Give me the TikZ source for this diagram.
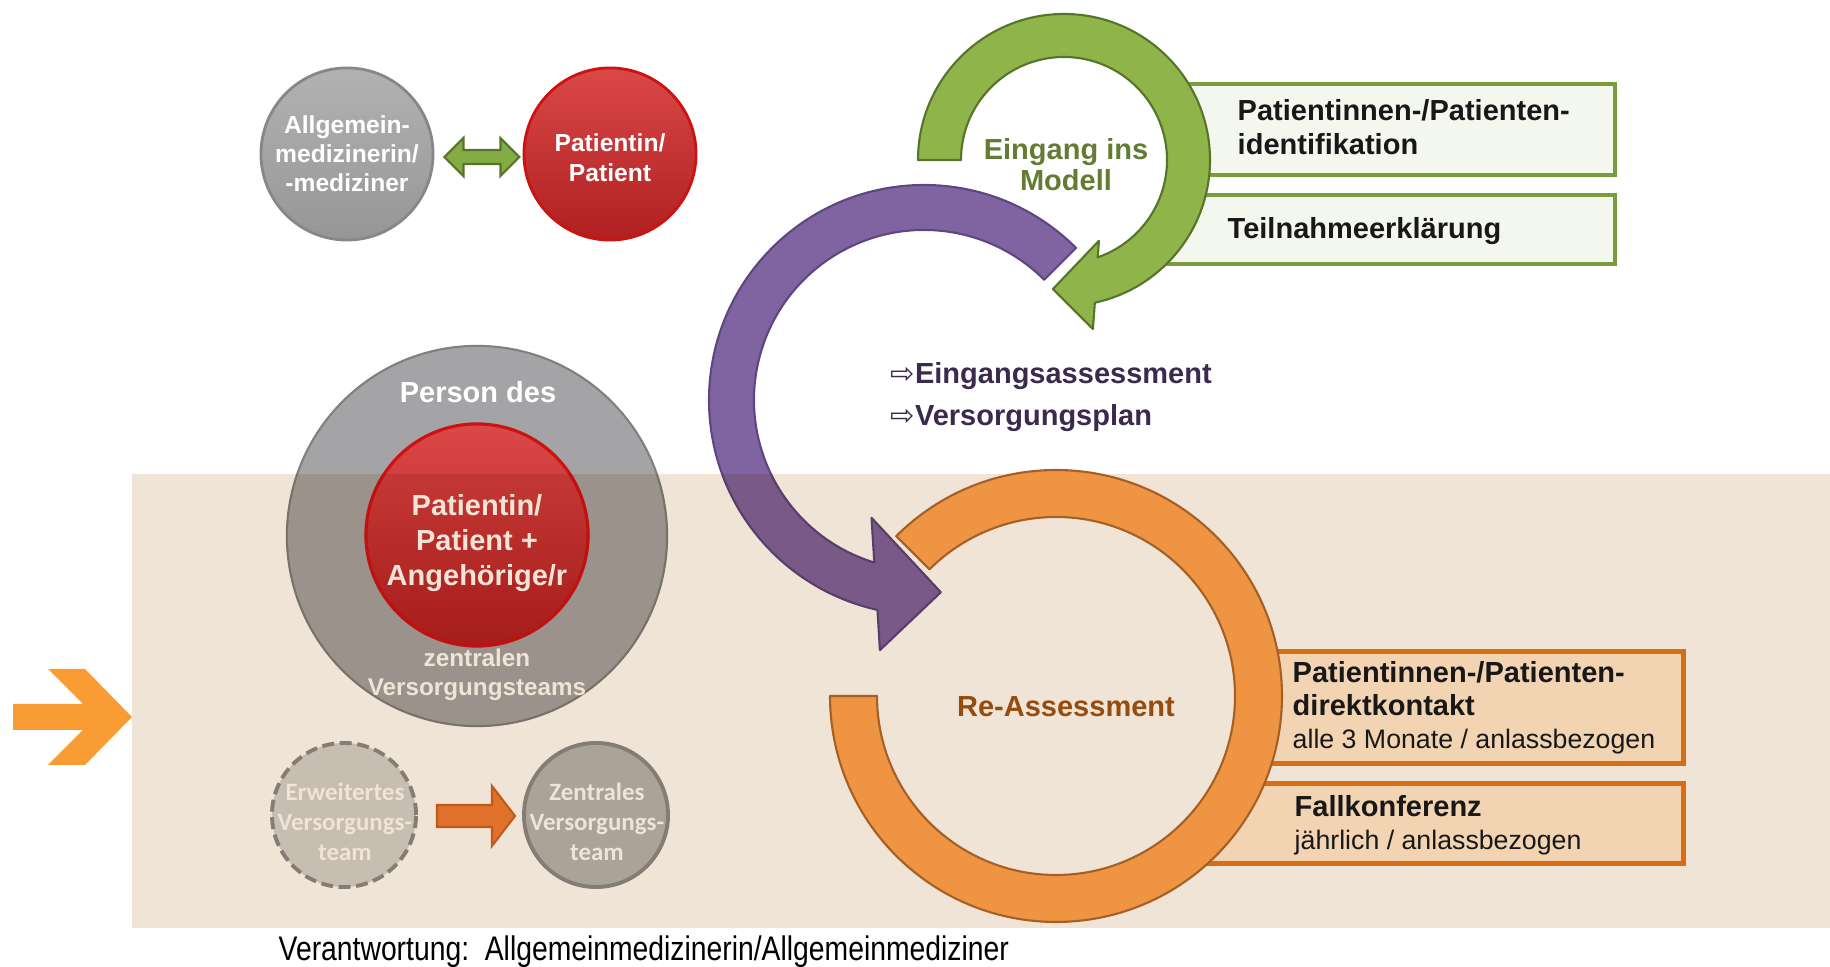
\documentclass[tikz,border=0pt]{standalone}
\usepackage{fontspec}
\setmainfont{Liberation Sans}
\newfontfamily\calfont{Carlito}
\newfontfamily\narrowfont[FakeStretch=0.83]{Liberation Sans}
\newfontfamily\symfont{DejaVu Sans}
\usetikzlibrary{calc}

\definecolor{bandbeige}{RGB}{240,228,214}
\definecolor{leftorange}{RGB}{250,156,52}
\definecolor{graytop}{RGB}{178,178,178}
\definecolor{graybot}{RGB}{150,150,150}
\definecolor{grayline}{RGB}{135,135,135}
\definecolor{redtop}{RGB}{218,72,72}
\definecolor{redbot}{RGB}{176,32,32}
\definecolor{redline}{RGB}{205,18,18}
\definecolor{linkgreen}{RGB}{132,172,68}
\definecolor{greenfill}{RGB}{143,181,74}
\definecolor{greenline}{RGB}{86,116,42}
\definecolor{greenboxfill}{RGB}{244,247,238}
\definecolor{greenboxline}{RGB}{120,156,62}
\definecolor{greentext}{RGB}{98,124,50}
\definecolor{purplefill}{RGB}{128,100,162}
\definecolor{purpleline}{RGB}{94,70,126}
\definecolor{purpletext}{RGB}{58,42,78}
\definecolor{teamgray}{RGB}{164,164,166}
\definecolor{teamline}{RGB}{128,128,128}
\definecolor{erwfill}{RGB}{212,212,212}
\definecolor{zvfill}{RGB}{182,182,182}
\definecolor{discline}{RGB}{140,140,140}
\definecolor{teamarrow}{RGB}{238,128,52}
\definecolor{teamarrowline}{RGB}{205,100,30}
\definecolor{orangefill}{RGB}{238,148,66}
\definecolor{orangeline}{RGB}{165,96,38}
\definecolor{orangeboxfill}{RGB}{242,212,178}
\definecolor{orangeboxline}{RGB}{214,110,22}
\definecolor{retext}{RGB}{150,76,14}
\definecolor{boxblack}{RGB}{24,24,24}

\begin{document}
\begin{tikzpicture}[x=0.01cm,y=0.01cm,
    ring/.style={line width=0.6pt,line join=round},
    disc/.style={circle,inner sep=0pt,align=center,text=white},
    topdisc/.style={disc,minimum size=1.72cm,line width=0.8pt,font=\bfseries\fontsize{7}{8.25}\selectfont},
    teamdisc/.style={circle,inner sep=0pt,minimum size=1.44cm,line width=1.1pt,draw=discline},
    teamtext/.style={align=center,inner sep=0pt,text=white,font=\calfont\bfseries\fontsize{7.1}{8.5}\selectfont},
    greenbox/.style={draw=greenboxline,fill=greenboxfill,line width=1.1pt,inner sep=0pt,anchor=north west},
    orangebox/.style={draw=orangeboxline,fill=orangeboxfill,line width=1.4pt,inner sep=0pt,anchor=north west},
    boxtext/.style={anchor=west,inner sep=0pt,align=left,text=boxblack,font=\bfseries\fontsize{8.25}{9.7}\selectfont},
    blockarrow/.style={line width=0.6pt,line join=miter}]
  \useasboundingbox (0,0) rectangle (1830,967);

  % arrow at the left edge
  \fill[leftorange] (13,263) -- (83,263) -- (48,298) -- (85,298) -- (132,250)
    -- (85,202) -- (48,202) -- (83,237) -- (13,237) -- cycle;

  % boxes of the entry step
  \node[greenbox,minimum width=4.38cm,minimum height=0.91cm] (idbox) at (1175,885) {};
  \node[greenbox,minimum width=4.48cm,minimum height=0.69cm] (tnbox) at (1165,774) {};
  \node[boxtext] (idtext) at ($(idbox.west)+(62,2)$) {Patientinnen-/Patienten-\\identifikation};
  \node[boxtext] (tntext) at ($(tnbox.west)+(62,-2)$) {Teilnahmeerklärung};

  % purple arc with head
  \coordinate (pc) at (924,567);
  \draw[ring,draw=purpleline,fill=purplefill] ($(pc)+(45:215)$) arc[start angle=45,end angle=257.5,radius=215]
    -- ($(pc)+(260:254)$) -- ($(pc)+(275:193)$) -- ($(pc)+(246:129)$) -- ($(pc)+(253:170)$)
    arc[start angle=253,end angle=45,radius=170] -- cycle;

  % green arc with head
  \coordinate (gc) at (1064,807);
  \draw[ring,draw=greenline,fill=greenfill] ($(gc)+(180:146)$) arc[start angle=180,end angle=-77.8,radius=146]
    -- ($(gc)+(-80.3:171.5)$) -- ($(gc)+(-94.9:129.5)$) -- ($(gc)+(-66.6:88)$) -- ($(gc)+(-70.9:103)$)
    arc[start angle=-70.9,end angle=180,radius=103] -- cycle;
  \node[align=center,text=greentext,font=\bfseries\fontsize{8.25}{8.8}\selectfont] (entry) at (1066,802) {Eingang ins\\Modell};

  % general practitioner and patient
  \node[topdisc,draw=grayline,top color=graytop,bottom color=graybot] (gp) at (347,813) {Allgemein-\\medizinerin/\\-mediziner};
  \node[topdisc,draw=redline,top color=redtop,bottom color=redbot] (pt) at (610,813) {};
  \node[align=center,inner sep=0pt,text=white,font=\bfseries\fontsize{7}{8.5}\selectfont] (pttext) at (610,809) {Patientin/\\Patient};
  \draw[blockarrow,draw=greenline,fill=linkgreen] ($(gp.east)+(10,-3)$) -- ++(19,19) -- ++(0,-12) -- ++(37,0)
    -- ++(0,12) -- ++(19,-19) -- ++(-19,-19) -- ++(0,12) -- ++(-37,0) -- ++(0,-12) -- cycle;

  % central team
  \node[circle,minimum size=3.8cm,fill=teamgray,draw=teamline,line width=0.6pt] (team) at (477,431) {};
  \node[disc,minimum size=2.22cm,draw=redline,line width=0.9pt,top color=redtop,bottom color=redbot] (core) at (477,432) {};
  \node[align=center,inner sep=0pt,text=white,font=\bfseries\fontsize{8.25}{9.9}\selectfont] (coretext) at (477,424)
    {Patientin/\\Patient +\\Angehörige/r};
  \node[text=white,font=\bfseries\fontsize{8.25}{9.7}\selectfont] (person) at (478,575) {Person des};
  \node[align=center,text=white,font=\bfseries\fontsize{6.9}{8.25}\selectfont] (central) at (477,292) {zentralen\\Versorgungsteams};

  % extended and central team
  \node[teamdisc,fill=erwfill,dash pattern=on 3.4pt off 1.6pt] (ev) at (344,152) {};
  \node[teamdisc,fill=zvfill] (zv) at (596,152) {};
  \node[teamtext] (evtext) at (345,145) {Erweitertes\\Versorgungs-\\team};
  \node[teamtext] (zvtext) at (597,145) {Zentrales\\Versorgungs-\\team};
  \draw[blockarrow,draw=teamarrowline,fill=teamarrow] ($(ev.east)+(19,10)$) -- ++(55,0) -- ++(0,19) -- ++(23,-30)
    -- ++(-23,-30) -- ++(0,19) -- ++(-55,0) -- cycle;

  \node[anchor=west,align=left,inner sep=0pt,text=purpletext,font=\bfseries\fontsize{8.25}{12}\selectfont] (plan)
    at (890,570) {{\symfont\mdseries ⇨}Eingangsassessment\\{\symfont\mdseries ⇨}Versorgungsplan};

  % band
  \fill[bandbeige,blend mode=multiply] (132,39) rectangle (1830,493);

  % re-assessment
  \coordinate (oc) at (1056,271);
  \node[orangebox,minimum width=4.16cm,minimum height=1.12cm] (dkbox) at (1265,318) {};
  \begin{scope}[even odd rule]
    \clip (1100,60) rectangle (1830,240) (oc) circle[radius=179];
    \node[orangebox,minimum width=4.91cm,minimum height=0.80cm] (fkbox) at (1190,186) {};
  \end{scope}
  \node[boxtext,font=\bfseries\fontsize{8.25}{9.4}\selectfont] (dktext) at ($(dkbox.west)+(27,0)$)
    {Patientinnen-/Patienten-\\direktkontakt\\{\mdseries\fontsize{7.6}{9.4}\selectfont alle 3 Monate / anlassbezogen}};
  \node[boxtext,font=\bfseries\fontsize{8.25}{9.4}\selectfont] (fktext) at ($(fkbox.west)+(104,-2)$)
    {Fallkonferenz\\{\mdseries\fontsize{7.6}{9.4}\selectfont jährlich / anlassbezogen}};
  \draw[ring,draw=orangeline,fill=orangefill] ($(oc)+(135:226)$) arc[start angle=135,end angle=-180,radius=226]
    -- ($(oc)+(180:179)$) arc[start angle=-180,end angle=135,radius=179] -- cycle;
  \node[text=retext,font=\bfseries\fontsize{8.25}{9.7}\selectfont] (reass) at (1066,260) {Re-Assessment};

  \node[anchor=base west,inner sep=0pt,font=\narrowfont\fontsize{9.7}{11}\selectfont] (resp) at (278,6)
    {Verantwortung:\ \ Allgemeinmedizinerin/Allgemeinmediziner};
\end{tikzpicture}
\end{document}
